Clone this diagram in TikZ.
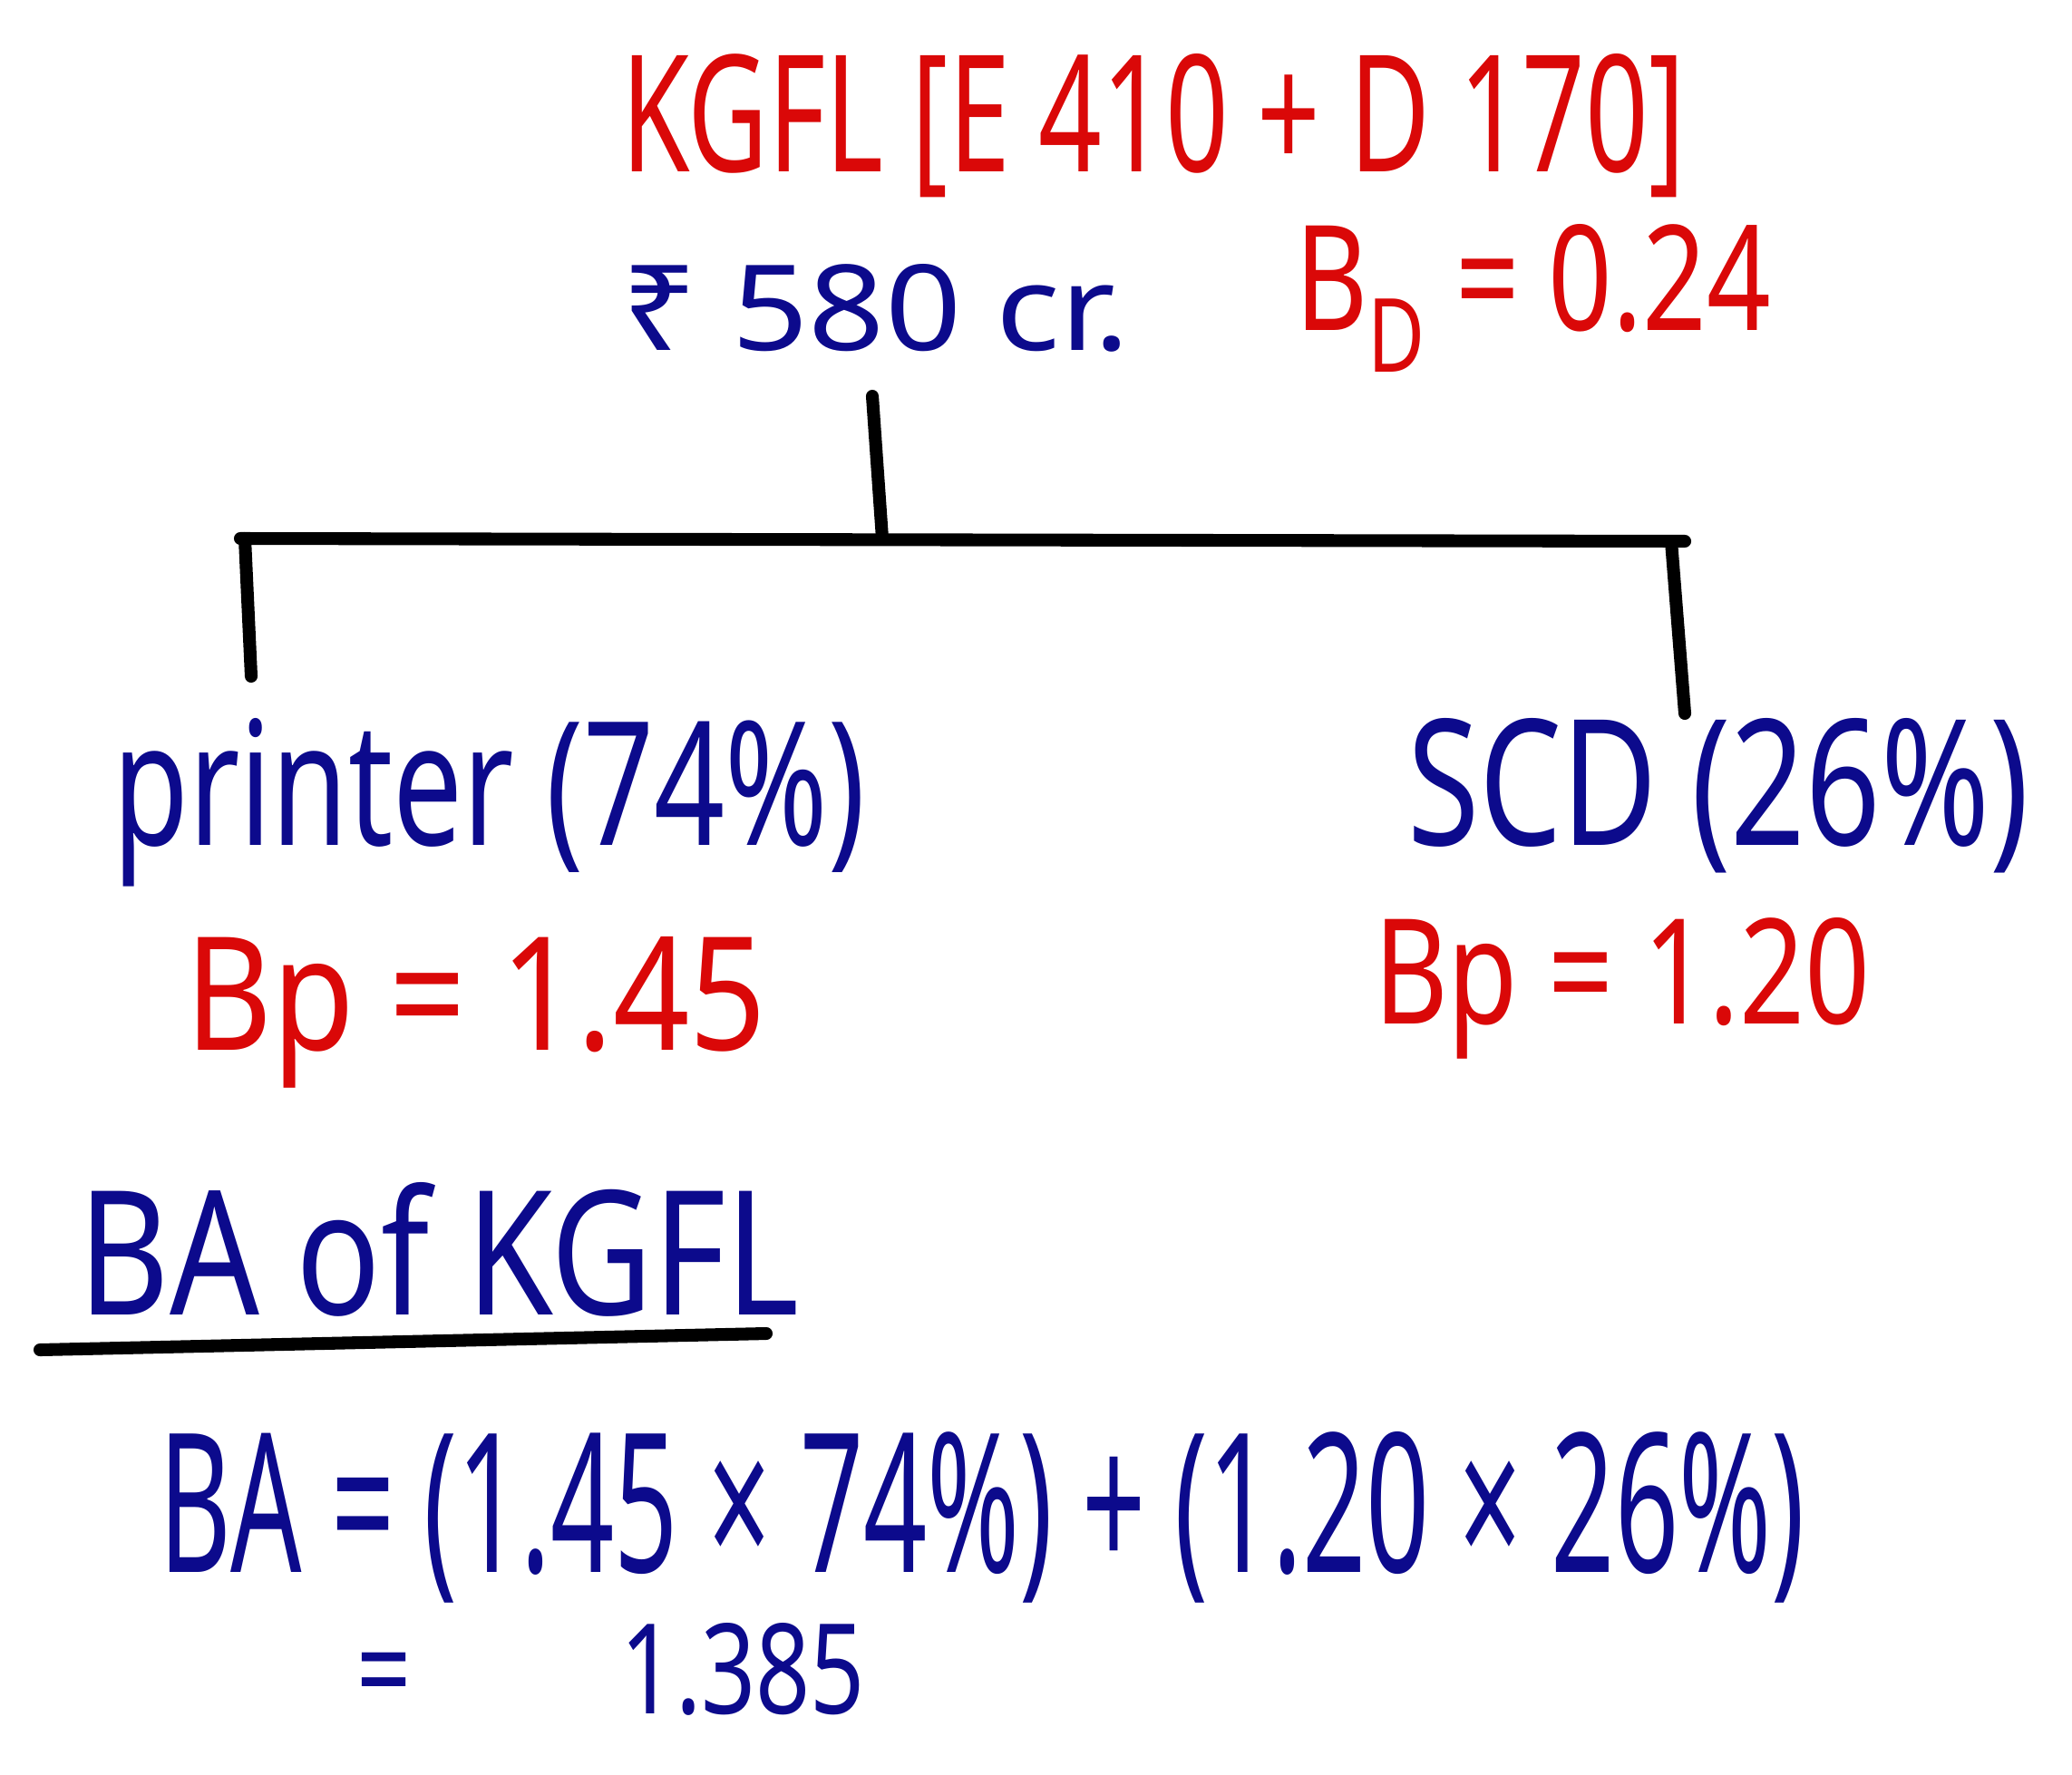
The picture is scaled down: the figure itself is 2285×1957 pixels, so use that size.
\documentclass[tikz,border=0pt]{standalone}
\usepackage{fontspec}
\usepackage{graphicx}
\setmainfont{Noto Sans}
\definecolor{inkred}{RGB}{218,8,8}
\definecolor{inkblue}{RGB}{12,10,140}
\newcommand{\hw}[3]{\resizebox{#1cm}{#2cm}{#3}}
\tikzset{
  hand/.style={inner sep=0pt, outer sep=0pt, anchor=base west, font=\fontsize{40}{48}\selectfont},
  redtxt/.style={hand, text=inkred},
  bluetxt/.style={hand, text=inkblue},
  treeline/.style={line width=4pt, line cap=round, black},
  uline/.style={line width=4pt, line cap=round, black}
}
\begin{document}
\begin{tikzpicture}[x=0.01cm, y=-0.01cm]
\useasboundingbox (0,0) rectangle (2285,1957);
\fill[white] (0,0) rectangle (2285,1957);

% header
\node[redtxt] (kgfl) at (685,189) {\hw{11.73}{1.30}{KGFL [E 410 + D 170]}};
\node[bluetxt] (amt) at (685,386) {\hw{5.61}{0.95}{₹ 580 cr.}};
\node[redtxt] (bd) at (1428,364) {\hw{5.25}{1.17}{B\textsubscript{D} = 0.24}};

% tree
\coordinate (top) at (962,437);
\coordinate (mid) at (973,594);
\coordinate (hl) at (265,594);
\coordinate (hr) at (1858,597);
\coordinate (ldown) at (277,746);
\coordinate (rdown) at (1858,787);
\draw[treeline] (top) -- (mid);
\draw[treeline] (hl) -- (hr);
\draw[treeline] (270,594) -- (ldown);
\draw[treeline] (1843,597) -- (rdown);

% children
\node[bluetxt] (printer) at (124,932) {\hw{8.30}{1.40}{printer (74\%)}};
\node[redtxt] (bpl) at (204,1158) {\hw{6.41}{1.25}{Bp = 1.45}};
\node[bluetxt] (scd) at (1552,932) {\hw{6.85}{1.40}{SCD (26\%)}};
\node[redtxt] (bpr) at (1515,1129) {\hw{5.47}{1.17}{Bp = 1.20}};

% BA
\node[bluetxt] (ba) at (87,1450) {\hw{7.94}{1.46}{BA of KGFL}};
\coordinate (ul1) at (44,1489);
\coordinate (ul2) at (845,1471);
\draw[uline] (ul1) -- (ul2);
\node[bluetxt] (formula) at (175,1734) {\hw{18.14}{1.55}{BA = (1.45 × 74\%) + (1.20 × 26\%)}};
\node[bluetxt] (res) at (393,1890) {\hw{5.61}{1.0}{=\hspace{2.2em}1.385}};
\end{tikzpicture}
\end{document}
